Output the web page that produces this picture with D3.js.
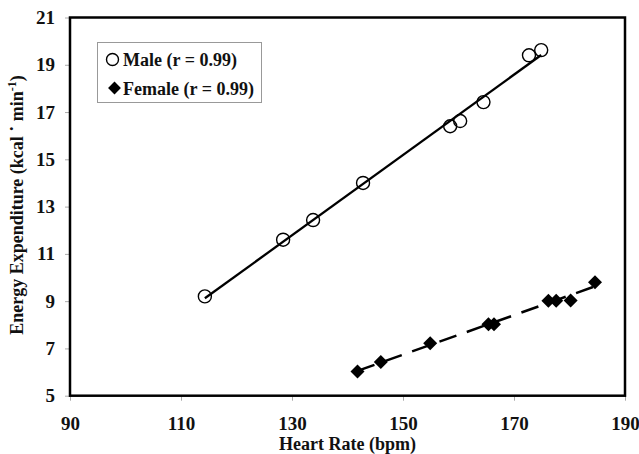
<!DOCTYPE html>
<html><head><meta charset="utf-8">
<script src="https://cdn.jsdelivr.net/npm/d3@7"></script>
<style>body{margin:0;background:#fff;}svg{display:block;font-family:"Liberation Serif","Times New Roman",serif;font-weight:bold;}</style>
</head><body>
<script>
const maleHR = [114.3, 128.4, 133.8, 142.8, 158.5, 160.3, 164.5, 172.7, 174.9];
const maleEE = [9.2, 11.6, 12.43, 14.0, 16.4, 16.62, 17.42, 19.4, 19.62];
const femaleHR = [141.8, 146.0, 154.9, 165.4, 166.4, 176.2, 177.6, 180.2, 184.6];
const femaleEE = [6.02, 6.43, 7.22, 8.02, 8.02, 9.02, 9.02, 9.03, 9.8];
const xTicks = [90, 110, 130, 150, 170, 190];
const yTicks = [5, 7, 9, 11, 13, 15, 17, 19, 21];
const legendLabels = ["Male (r = 0.99)", "Female (r = 0.99)"];

const W = 639, H = 454;
const FF = "'Liberation Serif', 'Times New Roman', serif";
const svg = d3.select("body").append("svg").attr("width", W).attr("height", H);
const x = d3.scaleLinear().domain([90, 190]).range([70, 625]);
const y = d3.scaleLinear().domain([5, 21]).range([395.7, 17.5]);

// axes (ticks + labels)
const xa = svg.append("g").attr("transform", `translate(0,${y(5)})`)
  .call(d3.axisBottom(x).tickValues(xTicks).tickSize(5).tickPadding(16).tickFormat(d3.format("d")));
const ya = svg.append("g").attr("transform", `translate(${x(90)},0)`)
  .call(d3.axisLeft(y).tickValues(yTicks).tickSize(5).tickPadding(10).tickFormat(d3.format("d")));
[xa, ya].forEach(a => {
  a.attr("font-family", FF);
  a.select(".domain").remove();
  a.selectAll(".tick line").attr("stroke", "#aaa").attr("stroke-width", 1);
  a.selectAll("text").attr("font-family", FF)
    .attr("font-weight", "bold").attr("font-size", 19).attr("fill", "#111");
});

// frame
svg.append("rect").attr("x", x(90)).attr("y", y(21))
  .attr("width", x(190) - x(90)).attr("height", y(5) - y(21))
  .attr("fill", "none").attr("stroke", "#000").attr("stroke-width", 2.5);

function fit(xs, ys) {
  const mx = d3.mean(xs), my = d3.mean(ys);
  let sxy = 0, sxx = 0;
  xs.forEach((v, i) => { sxy += (v - mx) * (ys[i] - my); sxx += (v - mx) * (v - mx); });
  const b = sxy / sxx, a = my - b * mx;
  const ext = d3.extent(xs);
  return ext.map(v => [v, a + b * v]);
}
const line = d3.line().x(d => x(d[0])).y(d => y(d[1]));

svg.append("path").attr("d", line(fit(maleHR, maleEE)))
  .attr("stroke", "#000").attr("stroke-width", 2.3).attr("fill", "none");
svg.append("path").attr("d", line(fit(femaleHR, femaleEE)))
  .attr("stroke", "#000").attr("stroke-width", 2.5).attr("fill", "none")
  .attr("stroke-dasharray", "18,11");

svg.append("g").selectAll("circle").data(maleHR.map((v, i) => [v, maleEE[i]])).join("circle")
  .attr("cx", d => x(d[0])).attr("cy", d => y(d[1])).attr("r", 6.5)
  .attr("fill", "none").attr("stroke", "#000").attr("stroke-width", 1.4);

const diamond = d3.symbol().type(d3.symbolDiamond2).size(125);
svg.append("g").selectAll("path").data(femaleHR.map((v, i) => [v, femaleEE[i]])).join("path")
  .attr("d", diamond).attr("transform", d => `translate(${x(d[0])},${y(d[1])})`)
  .attr("fill", "#000");

// legend
const lg = svg.append("g");
lg.append("rect").attr("x", 97.5).attr("y", 42.5).attr("width", 164).attr("height", 60)
  .attr("fill", "#fff").attr("stroke", "#999").attr("stroke-width", 1);
lg.append("circle").attr("cx", 112.5).attr("cy", 59.5).attr("r", 6)
  .attr("fill", "none").attr("stroke", "#000").attr("stroke-width", 1.4);
lg.append("path").attr("d", d3.symbol().type(d3.symbolDiamond2).size(105)).attr("transform", "translate(114.5,88)").attr("fill", "#000");
lg.selectAll("text").data(legendLabels).join("text")
  .attr("x", 123).attr("y", (d, i) => 66 + i * 29).attr("font-family", FF)
  .attr("font-size", 18).attr("fill", "#111").text(d => d);

// axis titles
svg.append("text").attr("x", (x(90) + x(190)) / 2).attr("y", 450).attr("text-anchor", "middle")
  .attr("font-family", FF).attr("font-size", 18).attr("fill", "#111").text("Heart Rate (bpm)");
const yt = svg.append("text").attr("transform", "translate(23,205) rotate(-90)")
  .attr("font-family", FF).attr("text-anchor", "middle").attr("font-size", 18).attr("fill", "#111");
yt.append("tspan").text("Energy Expenditure (kcal ");
yt.append("tspan").attr("dy", -5).text("·");
yt.append("tspan").attr("dy", 5).text(" min");
yt.append("tspan").attr("dy", -7).attr("font-size", 12).text("-1");
yt.append("tspan").attr("dy", 7).text(")");
</script>
</body></html>
